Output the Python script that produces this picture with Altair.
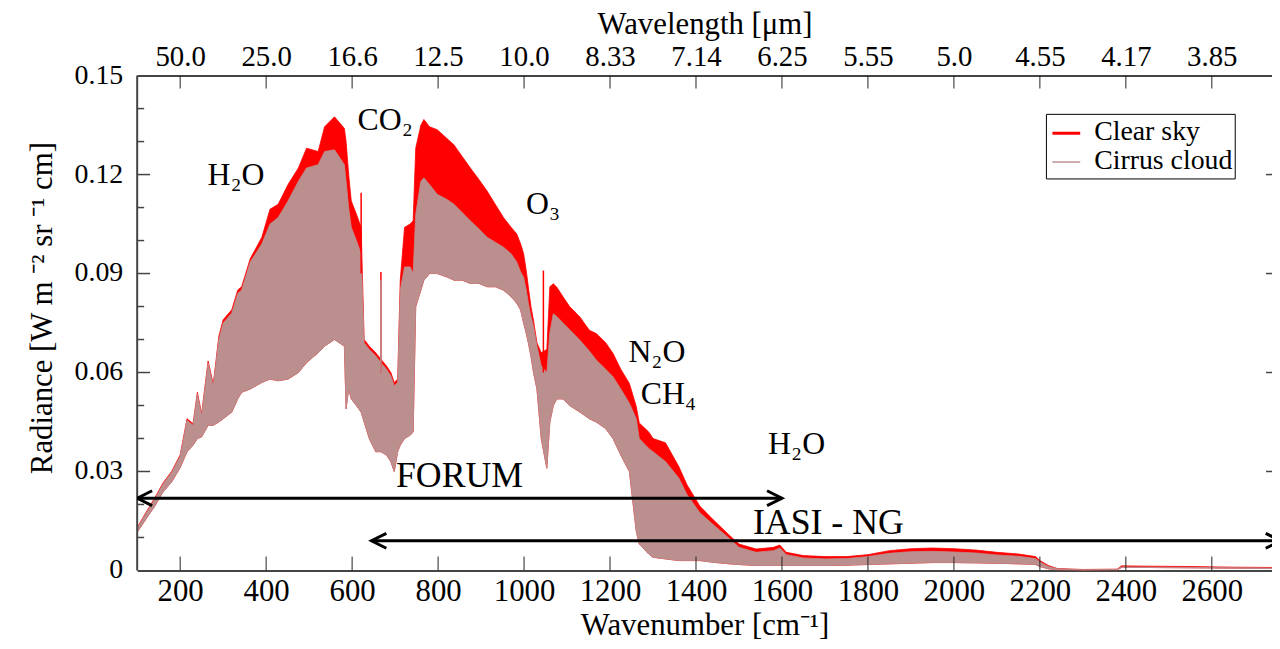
import json
import altair as alt
import pandas as pd

# ---------------- data ----------------
WN = [100, 120, 140, 160, 180, 200, 216, 230, 240, 250,
      265, 277, 290, 300, 310, 320, 334, 343, 363, 390,
      409, 428, 451, 475, 494, 521, 536, 559, 582, 586,
      592, 598, 610, 621, 628, 640, 655, 667, 680, 690,
      698, 706, 712, 722, 735, 742, 748, 760, 767, 780,
      798, 820, 837, 856, 875, 895, 914, 933, 952, 970,
      983, 992, 999, 1005, 1010, 1016, 1022, 1030, 1040, 1053,
      1060, 1068, 1076, 1091, 1106, 1130, 1152, 1168, 1190, 1207,
      1225, 1245, 1261, 1268, 1290, 1300, 1329, 1360, 1379, 1409,
      1439, 1479, 1500, 1540, 1580, 1595, 1610, 1650, 1700, 1750,
      1800, 1850, 1900, 1950, 2000, 2050, 2100, 2150, 2190, 2200,
      2220, 2240, 2300, 2380, 2390, 2450, 2550, 2650, 2750]

CLEAR_HI = [.0130, .0175, .0218, .0265, .0300, .0350, .0460, .0445, .0540, .0475,
            .0635, .0565, .0710, .0760, .0775, .0790, .0850, .0860, .0945, .1010,
            .1095, .1110, .1170, .1220, .1280, .1270, .1345, .1375, .1340, .1300,
            .1200, .1120, .1080, .1040, .0700, .0680, .0660, .0640, .0620, .0600,
            .0570, .0580, .0880, .1040, .1050, .1060, .1280, .1350, .1367, .1345,
            .1336, .1310, .1290, .1255, .1220, .1185, .1150, .1110, .1070, .1040,
            .1020, .0990, .0960, .0910, .0859, .0800, .0758, .0690, .0660, .0670,
            .0860, .0869, .0859, .0829, .0800, .0768, .0728, .0718, .0690, .0658,
            .0610, .0567, .0497, .0447, .0420, .0400, .0387, .0315, .0260, .0195,
            .0155, .0105, .0080, .0065, .0070, .0077, .0055, .0045, .0042, .0042,
            .0048, .0060, .0066, .0068, .0066, .0062, .0055, .0050, .0042, .0030,
            .0015, .0006, .0003, .0004, .0014, .0013, .0012, .0010, .0009]

CIRRUS_HI = [.0128, .0172, .0214, .0262, .0297, .0346, .0455, .0440, .0535, .0470,
             .0628, .0560, .0700, .0750, .0765, .0780, .0840, .0850, .0935, .0990,
             .1050, .1070, .1120, .1180, .1220, .1230, .1270, .1275, .1230, .1180,
             .1100, .1040, .1000, .0960, .0690, .0670, .0650, .0630, .0610, .0590,
             .0560, .0570, .0850, .0920, .0920, .0900, .1080, .1180, .1190, .1170,
             .1140, .1125, .1110, .1085, .1060, .1035, .1010, .0995, .0980, .0960,
             .0935, .0905, .0889, .0850, .0810, .0770, .0740, .0680, .0620, .0600,
             .0720, .0778, .0770, .0750, .0730, .0698, .0665, .0638, .0610, .0587,
             .0550, .0507, .0460, .0400, .0370, .0360, .0330, .0280, .0230, .0175,
             .0140, .0095, .0070, .0055, .0060, .0068, .0048, .0038, .0035, .0036,
             .0042, .0052, .0057, .0058, .0056, .0053, .0047, .0043, .0036, .0026,
             .0012, .0005, .0002, .0003, .0011, .0010, .0009, .0008, .0007]

BAND_LO = [.0116, .0155, .0193, .0238, .0268, .0312, .0360, .0380, .0400, .0405,
           .0440, .0440, .0450, .0460, .0470, .0480, .0520, .0540, .0550, .0570,
           .0580, .0575, .0580, .0600, .0630, .0660, .0680, .0700, .0680, .0490,
           .0550, .0520, .0500, .0480, .0450, .0400, .0360, .0360, .0350, .0330,
           .0300, .0360, .0380, .0400, .0410, .0420, .0800, .0850, .0880, .0900,
           .0900, .0890, .0880, .0880, .0870, .0870, .0860, .0860, .0850, .0830,
           .0810, .0790, .0750, .0720, .0690, .0650, .0600, .0550, .0400, .0310,
           .0450, .0500, .0520, .0520, .0500, .0480, .0460, .0450, .0430, .0400,
           .0350, .0300, .0120, .0080, .0050, .0040, .0035, .0030, .0030, .0030,
           .0025, .0020, .0018, .0015, .0015, .0016, .0015, .0015, .0015, .0016,
           .0018, .0020, .0022, .0024, .0024, .0023, .0022, .0020, .0018, .0012,
           .0005, .0002, .0001, .0002, .0009, .0009, .0008, .0007, .0006]

SPIKE_WN_CLEAR = [621, 667, 1045]
SPIKE_TOP_CLEAR = [0.1145, 0.0905, 0.0909]
SPIKE_BASE_CLEAR = [0.0900, 0.0600, 0.0600]
SPIKE_WN_CIRRUS = [667]
SPIKE_TOP_CIRRUS = [0.0880]
SPIKE_BASE_CIRRUS = [0.0600]

X_TICKS = [200, 400, 600, 800, 1000, 1200, 1400, 1600, 1800, 2000, 2200, 2400, 2600]
WAVELENGTH_LABELS = ["50.0", "25.0", "16.6", "12.5", "10.0", "8.33", "7.14",
                     "6.25", "5.55", "5.0", "4.55", "4.17", "3.85"]
Y_LABELS = [0, 0.03, 0.06, 0.09, 0.12, 0.15]
Y_MINOR = [0.01, 0.02, 0.04, 0.05, 0.07, 0.08, 0.10, 0.11, 0.13, 0.14]
Y_MAJOR_INNER = [0.03, 0.06, 0.09, 0.12]
SERIES = ["Clear sky", "Cirrus cloud"]
COLORS = ["#ff0000", "#bc8f8f"]

# ---------------- chart ----------------
W, H = 1142, 498
FONT = "Liberation Serif"
AXC = "#444"
xs = alt.Scale(domain=[100, 2740], nice=False, zero=False)
ys = alt.Scale(domain=[0, 0.15], nice=False, zero=False)

df = pd.DataFrame({"wn": WN, "clear": CLEAR_HI, "cirrus": CIRRUS_HI, "lo": BAND_LO})
one = alt.Data(values=[{"k": 0}])

axis_common = dict(ticks=False, grid=False, domainColor=AXC, domainWidth=2,
                   labelFont=FONT, titleFont=FONT, labelColor="black",
                   titleColor="black", titleFontWeight="normal")

clear_area = alt.Chart(df).mark_area(color=COLORS[0], stroke=COLORS[0],
                                     strokeWidth=0.8, clip=True).encode(
    x=alt.X("wn:Q", scale=xs, axis=alt.Axis(
        values=X_TICKS, format="d", labelFontSize=31, labelPadding=6,
        labelOverlap=False, labelFlush=False,
        title="Wavenumber [cm⁻¹]", titleFontSize=31, titlePadding=4,
        **axis_common)),
    y=alt.Y("lo:Q", scale=ys, axis=None),
    y2="clear:Q",
)

cirrus_area = alt.Chart(df).mark_area(color=COLORS[1], stroke=COLORS[1],
                                      strokeWidth=0.8, clip=True).encode(
    x=alt.X("wn:Q", scale=xs, axis=None),
    y=alt.Y("lo:Q", scale=ys, axis=None),
    y2="cirrus:Q",
)

sp_clear = pd.DataFrame({"wn": SPIKE_WN_CLEAR, "top": SPIKE_TOP_CLEAR, "base": SPIKE_BASE_CLEAR})
sp_cirrus = pd.DataFrame({"wn": SPIKE_WN_CIRRUS, "top": SPIKE_TOP_CIRRUS, "base": SPIKE_BASE_CIRRUS})
spikes_clear = alt.Chart(sp_clear).mark_rule(color=COLORS[0], strokeWidth=1.5, clip=True).encode(
    x=alt.X("wn:Q", scale=xs, axis=None), y=alt.Y("base:Q", scale=ys, axis=None), y2="top:Q")
spikes_cirrus = alt.Chart(sp_cirrus).mark_rule(color=COLORS[1], strokeWidth=1.5, clip=True).encode(
    x=alt.X("wn:Q", scale=xs, axis=None), y=alt.Y("base:Q", scale=ys, axis=None), y2="top:Q")

# x ticks (drawn inward) and top wavelength axis
xt = pd.DataFrame({"t": X_TICKS})
label_expr = json.dumps(WAVELENGTH_LABELS) + "[round(datum.value / 200) - 1]"
top_ticks = alt.Chart(xt).mark_rule(color="#222", strokeWidth=1).encode(
    x=alt.X("t:Q", scale=xs, axis=alt.Axis(
        orient="top", values=X_TICKS, labelExpr=label_expr, labelFontSize=29,
        labelPadding=4, labelOverlap=False, labelFlush=False,
        title="Wavelength [μm]", titleFontSize=31, titlePadding=2, **axis_common)),
    y=alt.value(0), y2=alt.value(13))
bottom_ticks = alt.Chart(xt).mark_rule(color="#222", strokeWidth=1).encode(
    x=alt.X("t:Q", scale=xs, axis=None), y=alt.value(H), y2=alt.value(H - 14))

# y axis drawn by hand: line, ticks, labels, title
ylab = pd.DataFrame({"v": Y_LABELS})
ymaj = pd.DataFrame({"v": Y_MAJOR_INNER})
ymin = pd.DataFrame({"v": Y_MINOR})
y_line = alt.Chart(one).mark_rule(color=AXC, strokeWidth=2).encode(
    x=alt.value(0), y=alt.value(0), y2=alt.value(H))
y_labels = alt.Chart(ylab).mark_text(font=FONT, fontSize=28, color="black",
                                     align="right", baseline="middle").encode(
    y=alt.Y("v:Q", scale=ys, axis=None), x=alt.value(-14),
    text=alt.Text("v:Q", format=".2~f"))
y_title = alt.Chart(one).mark_text(text="Radiance [W m ⁻² sr ⁻¹ cm]", font=FONT, fontSize=31,
                                   color="black", angle=270, align="center",
                                   baseline="middle").encode(
    x=alt.value(-95), y=alt.value(234))
left_major = alt.Chart(ymaj).mark_rule(color=AXC, strokeWidth=1.5).encode(
    y=alt.Y("v:Q", scale=ys, axis=None), x=alt.value(0), x2=alt.value(13))
left_minor = alt.Chart(ymin).mark_rule(color=AXC, strokeWidth=1.5).encode(
    y=alt.Y("v:Q", scale=ys, axis=None), x=alt.value(0), x2=alt.value(7))
right_major = alt.Chart(ymaj).mark_rule(color=AXC, strokeWidth=1.5).encode(
    y=alt.Y("v:Q", scale=ys, axis=None), x=alt.value(W - 6), x2=alt.value(W))

# arrows
def arrow(x0, x1, yv):
    line = alt.Chart(one).mark_rule(color="black", strokeWidth=3, clip=True).encode(
        x=alt.X(datum=x0, type="quantitative", scale=xs, axis=None),
        x2=alt.X2(datum=x1),
        y=alt.Y(datum=yv, type="quantitative", scale=ys, axis=None))
    left = alt.Chart(one).mark_point(shape="M 2 -1 L 0 0 L 2 1", size=225, filled=False,
                                     color="black", strokeWidth=3, opacity=1, clip=True).encode(
        x=alt.X(datum=x0, type="quantitative", scale=xs, axis=None),
        y=alt.Y(datum=yv, type="quantitative", scale=ys, axis=None))
    right = alt.Chart(one).mark_point(shape="M -2 -1 L 0 0 L -2 1", size=225, filled=False,
                                      color="black", strokeWidth=3, opacity=1, clip=True).encode(
        x=alt.X(datum=x1, type="quantitative", scale=xs, axis=None),
        y=alt.Y(datum=yv, type="quantitative", scale=ys, axis=None))
    return [line, left, right]

arrows = arrow(100, 1600, 0.0219) + arrow(645, 2760, 0.0090)

# annotations
def label(txt, xv, yv, size=32):
    return alt.Chart(one).mark_text(text=txt, font=FONT, fontSize=size, color="black",
                                    align="center", baseline="middle").encode(
        x=alt.X(datum=xv, type="quantitative", scale=xs, axis=None),
        y=alt.Y(datum=yv, type="quantitative", scale=ys, axis=None))

labels = [
    label("H₂O", 330, 0.1197),
    label("CO₂", 677, 0.1366),
    label("O₃", 1044, 0.1110),
    label("N₂O", 1309, 0.0663),
    label("CH₄", 1336, 0.0535),
    label("H₂O", 1634, 0.0383),
    label("FORUM", 850, 0.0286, 36),
    label("IASI - NG", 1708, 0.0145, 36),
]

# legend box
lx0, lx1, ly0, ly1 = 915, 1105, 39, 104
legend = [
    alt.Chart(one).mark_rect(fill="white", stroke="black", strokeWidth=1).encode(
        x=alt.value(lx0), x2=alt.value(lx1), y=alt.value(ly0), y2=alt.value(ly1)),
    alt.Chart(one).mark_rule(color=COLORS[0], strokeWidth=3).encode(
        x=alt.value(lx0 + 6), x2=alt.value(lx0 + 34), y=alt.value(ly0 + 19)),
    alt.Chart(one).mark_rule(color=COLORS[1], strokeWidth=1.5).encode(
        x=alt.value(lx0 + 6), x2=alt.value(lx0 + 34), y=alt.value(ly0 + 48)),
    alt.Chart(one).mark_text(text=SERIES[0], font=FONT, fontSize=28, color="black",
                             align="left", baseline="middle").encode(
        x=alt.value(lx0 + 48), y=alt.value(ly0 + 18)),
    alt.Chart(one).mark_text(text=SERIES[1], font=FONT, fontSize=28, color="black",
                             align="left", baseline="middle").encode(
        x=alt.value(lx0 + 48), y=alt.value(ly0 + 47)),
]

chart = alt.layer(
    clear_area, cirrus_area, spikes_clear, spikes_cirrus,
    top_ticks, bottom_ticks, y_line, left_major, left_minor, right_major,
    y_labels, y_title, *arrows, *labels, *legend,
).resolve_axis(x="independent").properties(
    width=W, height=H,
    autosize=alt.AutoSizeParams(type="none"),
    padding={"left": 130, "top": 66, "right": 0, "bottom": 76},
    background="white",
).configure(font=FONT).configure_axis(
    labelFont=FONT, titleFont=FONT
).configure_text(font=FONT).configure_view(stroke=None)

chart.save("out.html", embed_options={"renderer": "svg", "actions": False})
